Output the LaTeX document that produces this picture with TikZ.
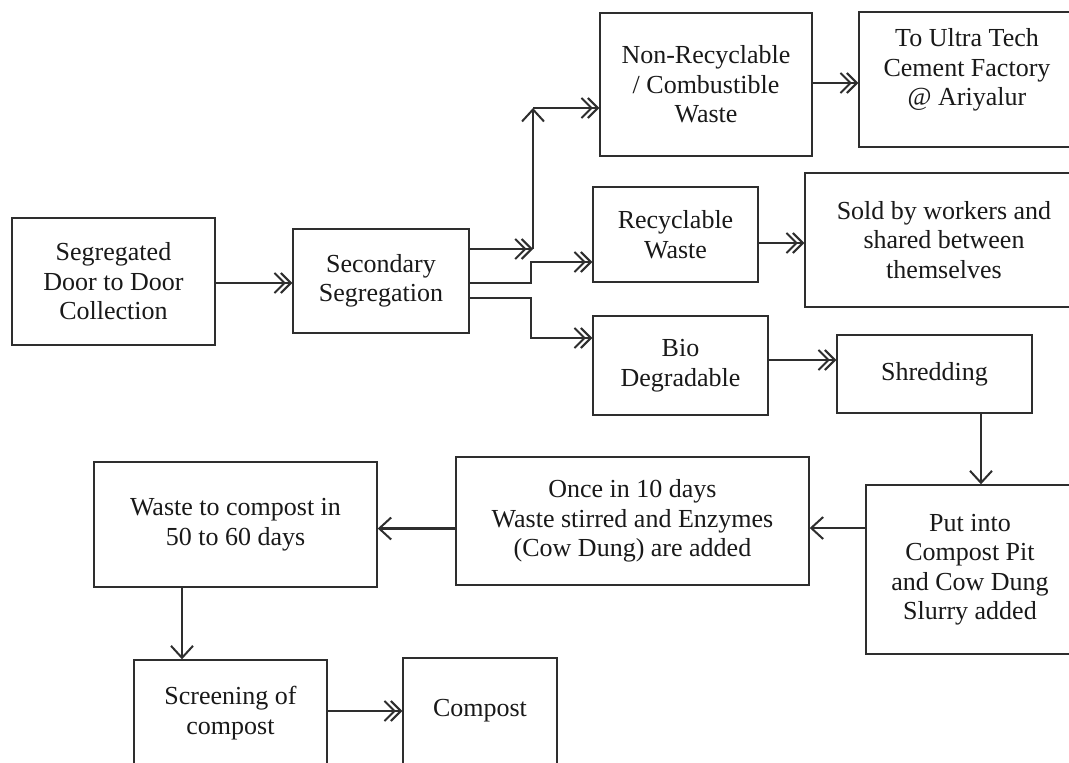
\documentclass[tikz,border=0pt]{standalone}
\usepackage{fontspec}
\setmainfont{Liberation Serif}
\usetikzlibrary{arrows.meta}
\definecolor{ink}{gray}{0.18}
\definecolor{txt}{gray}{0.1}
\begin{document}
\begin{tikzpicture}[x=1pt,y=-1pt,
  box/.style={draw=ink, line width=1.4pt, inner sep=0pt, align=center,
    font=\fontsize{26}{29.5}\selectfont, text=txt},
  lbl/.style={inner sep=0pt, align=center, font=\fontsize{26}{29.5}\selectfont, text=txt},
  arr/.style={draw=ink, line width=2.2pt,
    -{Straight Barb[length=10pt,width=20pt,line width=2pt,sep=-6pt]Straight Barb[length=10pt,width=20pt,line width=2pt]}},
  arrs/.style={draw=ink, line width=2.2pt,
    -{Straight Barb[length=12pt,width=22pt,line width=2pt]}}]
\useasboundingbox (0,0) rectangle (1069,763);
\fill[white] (0,0) rectangle (1069,763);

% boxes
\node[box, minimum width=203pt, minimum height=127pt] (seg) at (113.5,281.5) {Segregated\\Door to Door\\Collection};
\node[box, minimum width=176pt, minimum height=104pt] (sec) at (381,281) {Secondary\\Segregation};
\node[box, minimum width=212pt, minimum height=143pt] (nonrec) at (706,84.5) {Non-Recyclable\\/ Combustible\\Waste};
\node[box, minimum width=216pt, minimum height=135pt] (ultra) at (967,79.5) {};
\node[lbl] (ultraT) at (967,70) {To Ultra Tech\\Cement Factory\\@ Ariyalur};
\node[box, minimum width=165pt, minimum height=95pt] (recyc) at (675.5,234.5) {Recyclable\\Waste};
\node[box, minimum width=278pt, minimum height=134pt] (sold) at (944,240) {Sold by workers and\\shared between\\themselves};
\node[box, minimum width=175pt, minimum height=99pt] (bio) at (680.5,365.5) {Bio\\Degradable};
\node[box, minimum width=195pt, minimum height=78pt] (shred) at (934.5,374) {Shredding};
\node[box, minimum width=208pt, minimum height=169pt] (put) at (970,569.5) {Put into\\Compost Pit\\and Cow Dung\\Slurry added};
\node[box, minimum width=353pt, minimum height=128pt] (once) at (632.5,521) {Once in 10 days\\Waste stirred and Enzymes\\(Cow Dung) are added};
\node[box, minimum width=283pt, minimum height=125pt] (waste) at (235.5,524.5) {Waste to compost in\\50 to 60 days};
\node[box, minimum width=193pt, minimum height=106pt] (screen) at (230.5,713) {Screening of\\compost};
\node[box, minimum width=154pt, minimum height=106pt] (compost) at (480,711) {Compost};

% junctions
\coordinate (j1) at (533,249);
\coordinate (j1t) at (533,108);
\coordinate (j2) at (531,283);
\coordinate (j2t) at (531,262);
\coordinate (j3) at (531,298);
\coordinate (j3t) at (531,338);

% connectors
\draw[arr] (seg.east |- 0,283) -- (sec.west |- 0,283);
\draw[arr] (sec.east |- j1) -- (j1);
\draw[arrs] (j1) -- (j1t);
\draw[arr] (j1t) -- (nonrec.west |- j1t);
\draw[arr] (sec.east |- j2) -- (j2) -- (j2t) -- (recyc.west |- j2t);
\draw[arr] (sec.east |- j3) -- (j3) -- (j3t) -- (bio.west |- j3t);
\draw[arr] (nonrec.east |- 0,83) -- (ultra.west |- 0,83);
\draw[arr] (recyc.east |- 0,243) -- (sold.west |- 0,243);
\draw[arr] (bio.east |- 0,360) -- (shred.west |- 0,360);
\draw[arrs] (shred.south -| 981,0) -- (put.north -| 981,0);
\draw[arrs] (put.west |- 0,528) -- (once.east |- 0,528);
\draw[arrs] (once.west |- 0,528.5) -- (waste.east |- 0,528.5);
\draw[arrs] (waste.south -| 182,0) -- (screen.north -| 182,0);
\draw[arr] (screen.east |- 0,711) -- (compost.west |- 0,711);
\end{tikzpicture}
\end{document}
